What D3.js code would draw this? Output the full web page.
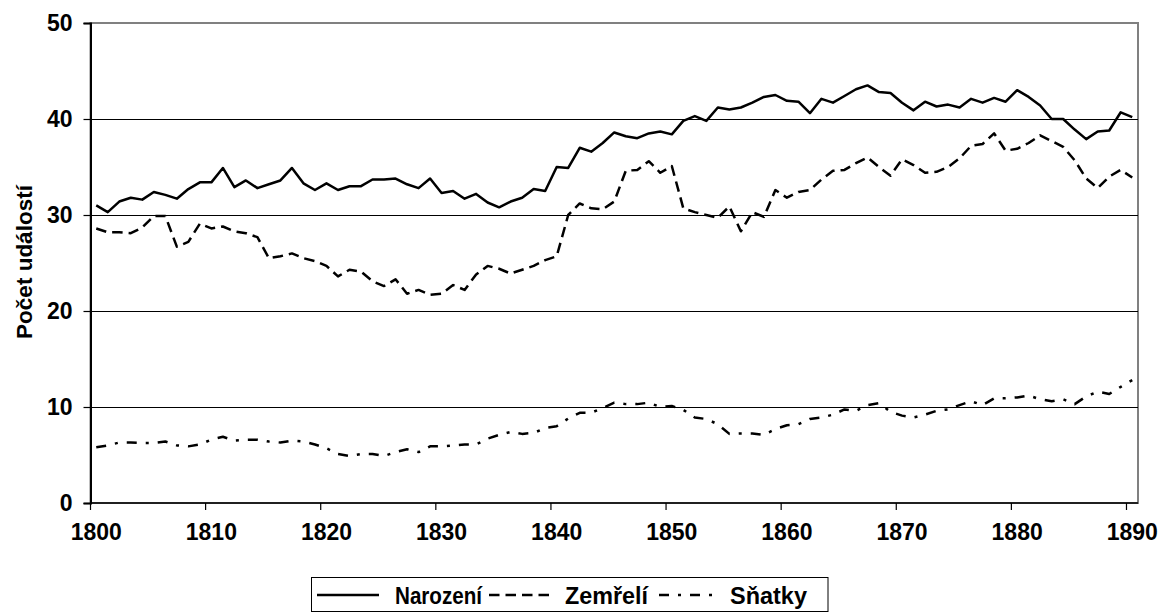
<!DOCTYPE html>
<html>
<head>
<meta charset="utf-8">
<script src="https://cdn.jsdelivr.net/npm/d3@7"></script>
<style>
  html, body { margin: 0; padding: 0; background: #fff; }
  svg { display: block; }
  text { font-family: Arial, "Liberation Sans", sans-serif; font-weight: bold; fill: #000; }
</style>
</head>
<body>
<svg id="chart" width="1160" height="613"></svg>
<script>
const years = d3.range(1800, 1891);

const narozeni = [
  31.0, 30.3, 31.4, 31.8, 31.6, 32.4, 32.1, 31.7, 32.7, 33.4,
  33.4, 34.9, 32.9, 33.6, 32.8, 33.2, 33.6, 34.9, 33.3, 32.6,
  33.3, 32.6, 33.0, 33.0, 33.7, 33.7, 33.8, 33.2, 32.8, 33.8,
  32.3, 32.5, 31.7, 32.2, 31.3, 30.8, 31.4, 31.8, 32.7, 32.5,
  35.0, 34.9, 37.0, 36.6, 37.5, 38.6, 38.2, 38.0, 38.5, 38.7,
  38.4, 39.8, 40.3, 39.8, 41.2, 41.0, 41.2, 41.7, 42.3, 42.5,
  41.9, 41.8, 40.6, 42.1, 41.7, 42.4, 43.1, 43.5, 42.8, 42.7,
  41.7, 40.9, 41.8, 41.3, 41.5, 41.2, 42.1, 41.7, 42.2, 41.8,
  43.0, 42.3, 41.4, 40.0, 40.0, 38.9, 37.9, 38.7, 38.8, 40.7,
  40.2
];

const zemreli = [
  28.6, 28.2, 28.2, 28.1, 28.7, 29.9, 29.9, 26.7, 27.2, 29.1,
  28.6, 28.8, 28.3, 28.1, 27.7, 25.5, 25.7, 26.0, 25.5, 25.2,
  24.7, 23.6, 24.3, 24.1, 23.1, 22.6, 23.3, 21.8, 22.2, 21.7,
  21.8, 22.7, 22.2, 23.8, 24.7, 24.4, 23.9, 24.3, 24.7, 25.3,
  25.7, 30.0, 31.2, 30.7, 30.6, 31.4, 34.6, 34.7, 35.6, 34.4,
  35.1, 30.7, 30.3, 30.0, 29.7, 30.9, 28.3, 30.3, 29.8, 32.6,
  31.8, 32.4, 32.6, 33.7, 34.6, 34.7, 35.4, 36.0, 35.0, 34.1,
  35.8, 35.2, 34.4, 34.5, 35.0, 35.9, 37.2, 37.4, 38.5, 36.7,
  36.9, 37.5, 38.3, 37.7, 37.1, 35.7, 33.8, 32.8, 34.0, 34.7,
  33.9
];

const snatky = [
  5.8, 6.0, 6.3, 6.3, 6.25, 6.25, 6.4, 6.0, 5.9, 6.1,
  6.6, 6.9, 6.5, 6.6, 6.6, 6.4, 6.3, 6.5, 6.4, 6.1,
  5.7, 5.1, 4.9, 5.1, 5.1, 4.9, 5.3, 5.6, 5.3, 5.9,
  5.9, 6.0, 6.1, 6.1, 6.7, 7.1, 7.4, 7.2, 7.3, 7.8,
  8.0, 8.8, 9.4, 9.4, 9.9, 10.45, 10.3, 10.3, 10.45, 10.0,
  10.1, 9.7, 8.9, 8.75, 8.2, 7.2, 7.25, 7.25, 7.1, 7.7,
  8.1, 8.2, 8.75, 8.9, 9.2, 9.75, 9.6, 10.2, 10.4, 9.5,
  9.1, 8.9, 9.2, 9.6, 9.75, 10.2, 10.6, 10.2, 10.9, 10.9,
  11.0, 11.2, 10.8, 10.6, 10.8, 10.3, 11.1, 11.6, 11.35, 12.1,
  12.8
];

const yTicks = [0, 10, 20, 30, 40, 50];
const xTickYears = [1800, 1810, 1820, 1830, 1840, 1850, 1860, 1870, 1880, 1890];
const seriesNames = ["Narozen\u00ed", "Zem\u0159el\u00ed", "S\u0148atky"];
const yTitle = "Po\u010Det ud\u00E1lost\u00ED";

const svg = d3.select("#chart");
const pL = 90.5, pR = 1138, pT = 23, pB = 503;

const x = d3.scaleBand().domain(years).range([pL, pR]).paddingInner(0).paddingOuter(0);
const bw = x.bandwidth();
const cx = yr => x(yr) + bw / 2;
const y = d3.scaleLinear().domain([0, 50]).range([pB, pT]);

// plot border (gray)
svg.append("rect")
  .attr("x", pL).attr("y", pT)
  .attr("width", pR - pL).attr("height", pB - pT)
  .attr("fill", "none").attr("stroke", "#808080").attr("stroke-width", 2);

// gridlines
svg.append("g").selectAll("line")
  .data(yTicks.filter(v => v > 0 && v < 50))
  .join("line")
  .attr("x1", pL).attr("x2", pR)
  .attr("y1", d => Math.round(y(d)) + 0.5).attr("y2", d => Math.round(y(d)) + 0.5)
  .attr("stroke", "#000").attr("stroke-width", 1);

// y axis
const yAxis = d3.axisLeft(y).tickValues(yTicks).tickSize(7).tickPadding(11);
const gy = svg.append("g").attr("transform", `translate(${pL},0)`).call(yAxis);
gy.select(".domain").attr("stroke", "#000").attr("stroke-width", 2);
gy.selectAll(".tick line").attr("stroke", "#000").attr("stroke-width", 1.2);
gy.selectAll(".tick text").style("font-size", "23px").style("font-family", "Arial, 'Liberation Sans', sans-serif").style("font-weight", "bold").attr("fill", "#000");

// x axis: band boundaries as ticks, labels centered on category
const gx = svg.append("g");
gx.append("line").attr("x1", pL).attr("x2", pR)
  .attr("y1", pB).attr("y2", pB)
  .attr("stroke", "#000").attr("stroke-width", 1.5);
gx.selectAll("line.tk").data(xTickYears).join("line").attr("class", "tk")
  .attr("x1", d => x(d)).attr("x2", d => x(d))
  .attr("y1", pB).attr("y2", pB + 7)
  .attr("stroke", "#000").attr("stroke-width", 1.2);
gx.selectAll("text").data(xTickYears).join("text")
  .attr("x", d => cx(d)).attr("y", pB + 37)
  .attr("text-anchor", "middle")
  .style("font-size", "23px")
  .text(d => d);

// y title
svg.append("text")
  .attr("transform", "translate(32,262) rotate(-90)")
  .attr("text-anchor", "middle")
  .style("font-size", "22.5px")
  .text(yTitle);

// lines
const styles = [
  { data: narozeni, dash: null },
  { data: zemreli, dash: "10.5,6" },
  { data: snatky, dash: "10,9,3,9" }
];
const lineGen = d3.line().x((d, i) => cx(years[i])).y(d => y(d));
styles.forEach(s => {
  svg.append("path")
    .datum(s.data)
    .attr("d", lineGen)
    .attr("fill", "none")
    .attr("stroke", "#000")
    .attr("stroke-width", 2.5)
    .attr("stroke-linejoin", "round")
    .attr("stroke-dasharray", s.dash);
});

// legend
const lg = svg.append("g");
lg.append("rect").attr("x", 311.5).attr("y", 577.5).attr("width", 516.5).attr("height", 34)
  .attr("fill", "#fff").attr("stroke", "#000").attr("stroke-width", 1);
const legItems = [
  { x0: 317, tx: 395, len: 87, dash: null },
  { x0: 489, tx: 565, len: 83, dash: "10.5,6" },
  { x0: 659, tx: 730, len: 77, dash: "10,9,3,9" }
];
const ly = 595;
legItems.forEach((it, i) => {
  lg.append("line").attr("x1", it.x0).attr("x2", it.x0 + 62)
    .attr("y1", ly).attr("y2", ly)
    .attr("stroke", "#000").attr("stroke-width", 2.5)
    .attr("stroke-dasharray", it.dash);
  lg.append("text").attr("x", it.tx).attr("y", ly + 8.5)
    .style("font-size", "23.5px")
    .attr("textLength", it.len)
    .attr("lengthAdjust", "spacingAndGlyphs")
    .text(seriesNames[i]);
});
</script>
</body>
</html>
